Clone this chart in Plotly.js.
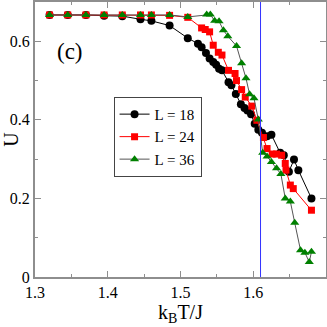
<!DOCTYPE html>
<html>
<head>
<meta charset="utf-8">
<script src="https://cdn.plot.ly/plotly-3.0.1.min.js"></script>
<style>
  html, body { margin: 0; padding: 0; background: #fff; }
  #chart { width: 327px; height: 327px; }
</style>
</head>
<body>
<div id="chart"></div>
<script>
// values
const x18 = [1.32, 1.345, 1.37, 1.395, 1.42, 1.445, 1.46, 1.485, 1.51, 1.524, 1.529, 1.535, 1.54, 1.545, 1.549, 1.553, 1.557,
  1.566, 1.57, 1.576, 1.583, 1.588, 1.592, 1.597, 1.602, 1.607, 1.612, 1.619, 1.625, 1.637, 1.642, 1.649, 1.656, 1.662, 1.68];
const u18 = [0.667, 0.667, 0.667, 0.665, 0.664, 0.656, 0.652, 0.640, 0.608, 0.594, 0.585, 0.570, 0.556, 0.547, 0.540, 0.530, 0.526,
  0.496, 0.488, 0.466, 0.440, 0.430, 0.424, 0.414, 0.390, 0.375, 0.367, 0.358, 0.362, 0.316, 0.310, 0.268, 0.299, 0.272, 0.200];

const x24 = [1.32, 1.345, 1.37, 1.395, 1.42, 1.445, 1.46, 1.485, 1.51, 1.529, 1.534, 1.54, 1.545, 1.552, 1.557, 1.566, 1.575,
  1.577, 1.584, 1.589, 1.598, 1.605, 1.614, 1.619, 1.626, 1.632, 1.639, 1.644, 1.645, 1.651, 1.655, 1.68];
const u24 = [0.667, 0.667, 0.667, 0.667, 0.667, 0.667, 0.667, 0.666, 0.661, 0.634, 0.630, 0.624, 0.590, 0.572, 0.565, 0.526, 0.518,
  0.500, 0.477, 0.458, 0.435, 0.399, 0.355, 0.327, 0.313, 0.313, 0.310, 0.289, 0.272, 0.234, 0.225, 0.170];

const x36 = [1.32, 1.345, 1.37, 1.395, 1.42, 1.445, 1.46, 1.485, 1.51, 1.536, 1.541, 1.547, 1.553, 1.559, 1.565, 1.577, 1.584,
  1.59, 1.595, 1.601, 1.607, 1.613, 1.619, 1.625, 1.632, 1.638, 1.644, 1.651, 1.657, 1.665, 1.671, 1.677, 1.68];
const u36 = [0.667, 0.667, 0.667, 0.667, 0.667, 0.667, 0.667, 0.667, 0.662, 0.668, 0.668, 0.652, 0.651, 0.628, 0.613, 0.588, 0.544,
  0.506, 0.465, 0.455, 0.401, 0.316, 0.307, 0.293, 0.277, 0.262, 0.200, 0.192, 0.138, 0.068, 0.062, 0.038, 0.064];

const Tc = 1.61;
const xTicks = [1.3, 1.4, 1.5, 1.6];
const xMinor = [1.35, 1.45, 1.55, 1.65];
const yTicks = [0, 0.2, 0.4, 0.6];
const yMinor = [0.1, 0.3, 0.5];

const serif = 'Liberation Serif';
const axisGrey = '#8e8e8e';

const traces = [
  {
    x: x18, y: u18, name: 'L = 18', mode: 'lines+markers',
    line: { color: 'black', width: 1 },
    marker: { symbol: 'circle', size: 8, color: 'black' }
  },
  {
    x: x24, y: u24, name: 'L = 24', mode: 'lines+markers',
    line: { color: 'red', width: 1 },
    marker: { symbol: 'square', size: 7, color: 'red' }
  },
  {
    x: x36, y: u36, name: 'L = 36', mode: 'lines+markers',
    line: { color: '#555555', width: 1 },
    marker: { symbol: 'triangle-up', size: 8, color: 'green' }
  }
];

function axis(extra) {
  return Object.assign({
    showgrid: false, zeroline: false,
    showline: true, linecolor: axisGrey, linewidth: 2, mirror: 'ticks',
    ticks: 'inside', ticklen: 6, tickcolor: axisGrey, tickwidth: 1,
    tickfont: { family: serif, size: 16, color: 'black' },
    automargin: false
  }, extra);
}

const layout = {
  width: 327, height: 327,
  margin: { l: 35, r: 1, t: 2, b: 50 },
  paper_bgcolor: 'white', plot_bgcolor: 'white',
  font: { family: serif, color: 'black' },
  xaxis: axis({
    range: [1.3, 1.7], tickvals: xTicks, ticktext: xTicks.map(v => v.toFixed(1)),
    minor: { tickvals: xMinor, ticks: 'inside', ticklen: 3, tickcolor: axisGrey },
    title: { text: 'k<sub>B</sub>T/J', font: { family: serif, size: 20 }, standoff: 2 }
  }),
  yaxis: axis({
    range: [0, 0.7], tickvals: yTicks, ticktext: ['0', '0.2', '0.4', '0.6'],
    minor: { tickvals: yMinor, ticks: 'inside', ticklen: 3, tickcolor: axisGrey },
    title: { text: 'U', font: { family: serif, size: 20 }, standoff: 4 }
  }),
  shapes: [{
    type: 'line', xref: 'x', yref: 'paper', x0: Tc, x1: Tc, y0: 0, y1: 1,
    line: { color: '#3333ff', width: 1 }
  }],
  annotations: [{
    text: '(c)', xref: 'paper', yref: 'paper', x: 0.07, y: 0.82,
    xanchor: 'left', yanchor: 'middle', showarrow: false,
    font: { family: serif, size: 23, color: 'black' }
  }],
  showlegend: true,
  legend: {
    x: 0.27, y: 0.655, xanchor: 'left', yanchor: 'top',
    bgcolor: 'white', bordercolor: '#444', borderwidth: 1,
    font: { family: serif, size: 15, color: 'black' },
    itemwidth: 30, tracegroupgap: 0
  }
};

Plotly.newPlot('chart', traces, layout, { staticPlot: true, displayModeBar: false });
</script>
</body>
</html>
